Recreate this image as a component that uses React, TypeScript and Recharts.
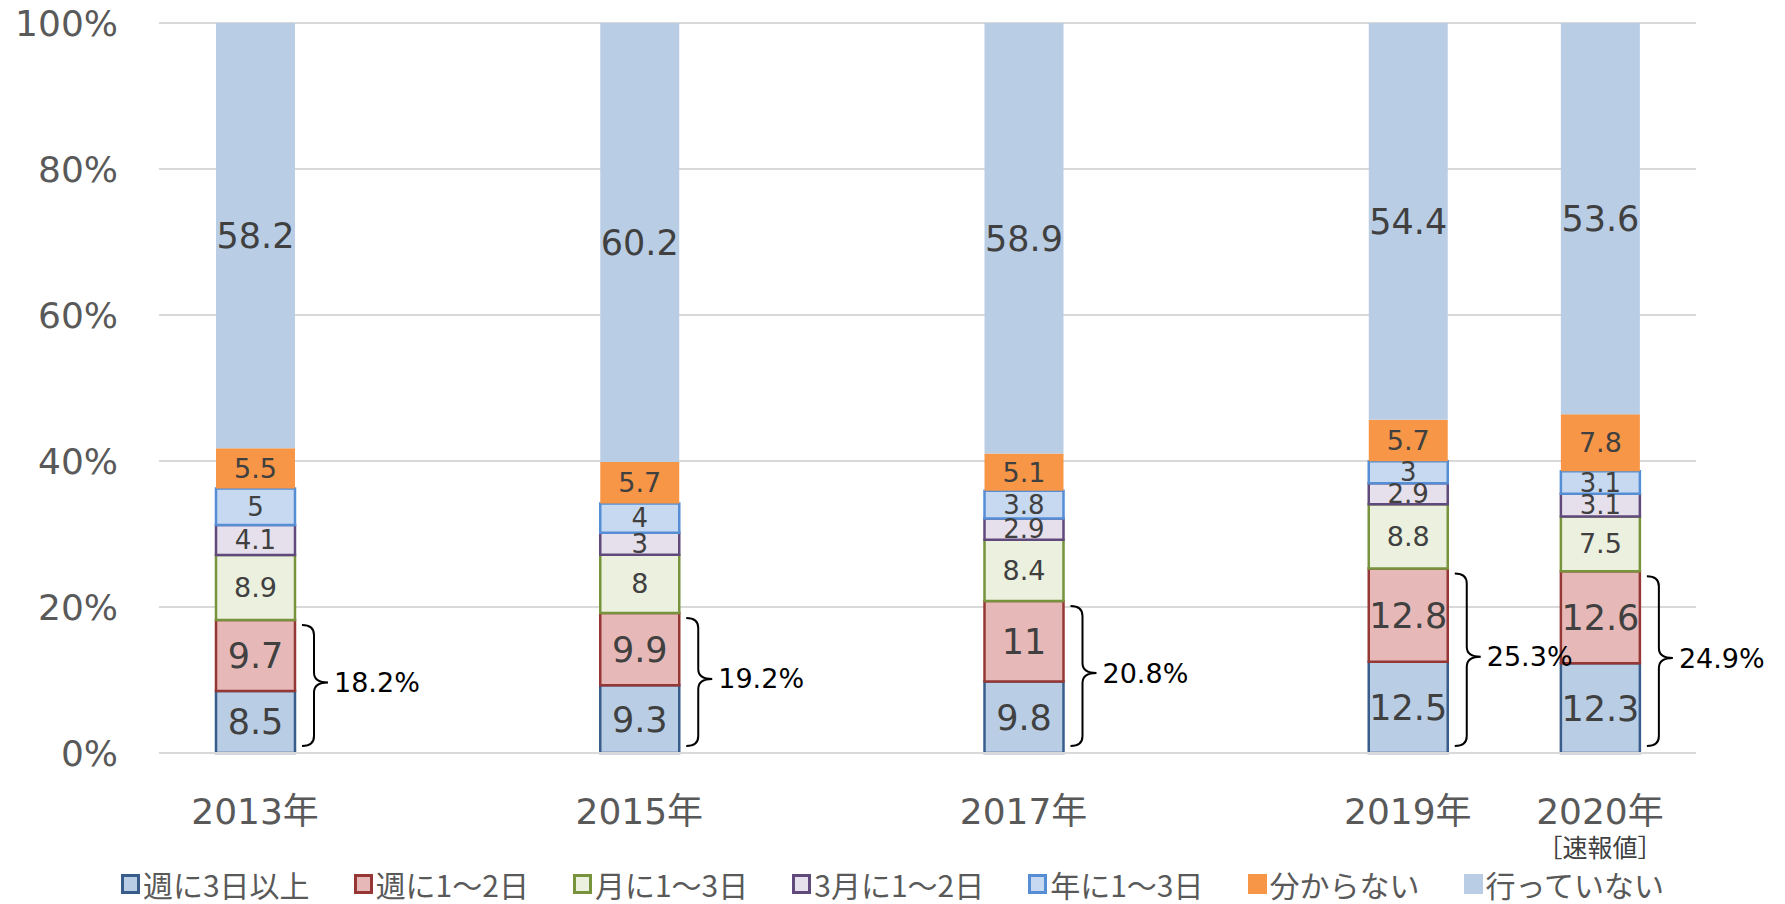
import React from "react";
import { BarChart, Bar, XAxis, YAxis, CartesianGrid, Legend, LabelList } from "recharts";

if (typeof document !== "undefined") document.body.style.margin = "0";

const years = [2013, 2015, 2017, 2019, 2020];
const yearLabels = ["2013年", "2015年", "2017年", "2019年", "2020年"];
const weekly3 = [8.5, 9.3, 9.8, 12.5, 12.3];
const weekly1to2 = [9.7, 9.9, 11, 12.8, 12.6];
const monthly1to3 = [8.9, 8, 8.4, 8.8, 7.5];
const quarter1to2 = [4.1, 3, 2.9, 2.9, 3.1];
const yearly1to3 = [5, 4, 3.8, 3, 3.1];
const unknown = [5.5, 5.7, 5.1, 5.7, 7.8];
const never = [58.2, 60.2, 58.9, 54.4, 53.6];
const yTicks = [0, 0.2, 0.4, 0.6, 0.8, 1];

const NUM_FONT = "'DejaVu Sans', 'Noto Sans CJK JP', sans-serif";
const JP_FONT = "'Noto Sans CJK JP', 'DejaVu Sans', sans-serif";

const series = [
  { key: "w3", name: "週に3日以上", values: weekly3, fill: "#B9CDE5", stroke: "#385D8A", fontSize: 35 },
  { key: "w12", name: "週に1～2日", values: weekly1to2, fill: "#E6B9B8", stroke: "#953735", fontSize: 35 },
  { key: "m13", name: "月に1～3日", values: monthly1to3, fill: "#EBF1DE", stroke: "#77933C", fontSize: 27 },
  { key: "q12", name: "3月に1～2日", values: quarter1to2, fill: "#E6E0EC", stroke: "#604A7B", fontSize: 26 },
  { key: "y13", name: "年に1～3日", values: yearly1to3, fill: "#C6D9F1", stroke: "#558ED5", fontSize: 26 },
  { key: "unk", name: "分からない", values: unknown, fill: "#F79646", stroke: "", fontSize: 27 },
  { key: "none", name: "行っていない", values: never, fill: "#B9CDE5", stroke: "", fontSize: 35 },
];

const data = years.map((year, i) => {
  const row: Record<string, number> = { year };
  series.forEach((s) => (row[s.key] = s.values[i]));
  return row;
});

function YearTick(props: any) {
  const { x, y, payload } = props;
  const i = years.indexOf(payload.value);
  return (
    <g>
      <text x={x} y={y + 58} textAnchor="middle" dominantBaseline="central" fontSize={36} fill="#595959" fontFamily={NUM_FONT}>
        {yearLabels[i]}
      </text>
      {payload.value === 2020 && (
        <text x={x} y={y + 93} textAnchor="middle" dominantBaseline="central" fontSize={25} fill="#404040" fontFamily={JP_FONT}>
          ［速報値］
        </text>
      )}
    </g>
  );
}

// curly brace spanning the two weekly segments, with their total
function Brace(props: any) {
  const vb = props.viewBox ?? props;
  let i = props.index;
  if (i == null) i = weekly1to2.indexOf(props.value);
  const top = Math.min(vb.y, vb.y + vb.height);
  const h = Math.abs(vb.height);
  const bottom = top + h + (h * weekly3[i]) / weekly1to2[i];
  const right = vb.x + vb.width;
  const y0 = top + 5;
  const y1 = bottom - 7;
  const ym = (y0 + y1) / 2 - 3;
  const x0 = right + 7;
  const x1 = right + 19;
  const xt = right + 33;
  const r = 10;
  const d = `M${x0},${y0} Q${x1},${y0} ${x1},${y0 + r} L${x1},${ym - r} Q${x1},${ym} ${xt},${ym} Q${x1},${ym} ${x1},${ym + r} L${x1},${y1 - r} Q${x1},${y1} ${x0},${y1}`;
  const total = (weekly3[i] + weekly1to2[i]).toFixed(1);
  return (
    <g>
      <path d={d} fill="none" stroke="#000" strokeWidth={2} />
      <text x={xt + 6} y={ym} dominantBaseline="central" fontSize={27} fill="#000" fontFamily={NUM_FONT}>
        {total}%
      </text>
    </g>
  );
}

const renderLegend = () => (
  <div
    style={{
      display: "flex",
      justifyContent: "center",
      alignItems: "center",
      height: 40,
      gap: 44,
      fontFamily: JP_FONT,
      fontSize: 30,
      lineHeight: "40px",
      color: "#595959",
    }}
  >
    {series.map((s) => (
      <div key={s.key} style={{ display: "flex", alignItems: "center" }}>
        <span
          style={{
            display: "inline-block",
            width: 19,
            height: 20,
            boxSizing: "border-box",
            background: s.fill,
            border: s.stroke ? `3px solid ${s.stroke}` : "none",
            marginRight: 3,
          }}
        />
        <span>{s.name}</span>
      </div>
    ))}
  </div>
);

export default function App() {
  return (
    <BarChart
      width={1785}
      height={904}
      data={data}
      stackOffset="expand"
      margin={{ top: 23, right: 89, left: 0, bottom: 41 }}
      barSize={79}
    >
      <CartesianGrid vertical={false} stroke="#D9D9D9" strokeWidth={2} />
      <XAxis
        dataKey="year"
        type="number"
        domain={[2012.5, 2020.5]}
        ticks={years}
        height={70}
        tickLine={false}
        tickSize={0}
        tickMargin={0}
        axisLine={{ stroke: "#D9D9D9", strokeWidth: 2 }}
        tick={<YearTick />}
        interval={0}
      />
      <YAxis
        type="number"
        domain={[0, 1]}
        ticks={yTicks}
        width={159}
        axisLine={false}
        tickLine={false}
        tickSize={0}
        tickMargin={41}
        tickFormatter={(v: number) => `${Math.round(v * 100)}%`}
        tick={{ fill: "#595959", fontSize: 36, fontFamily: NUM_FONT }}
      />
      <Legend
        verticalAlign="bottom"
        content={renderLegend}
        wrapperStyle={{ left: 0, width: 1785, bottom: 0, height: 40 }}
      />
      {series.map((s) => (
        <Bar
          key={s.key}
          dataKey={s.key}
          name={s.name}
          stackId="a"
          fill={s.fill}
          stroke={s.stroke || "none"}
          strokeWidth={s.stroke ? 2.5 : 0}
          isAnimationActive={false}
        >
          <LabelList
            dataKey={s.key}
            position="center"
            fill="#404040"
            fontSize={s.fontSize}
            fontFamily={NUM_FONT}
          />
          {s.key === "w12" && <LabelList dataKey="w12" content={<Brace />} />}
        </Bar>
      ))}
    </BarChart>
  );
}
